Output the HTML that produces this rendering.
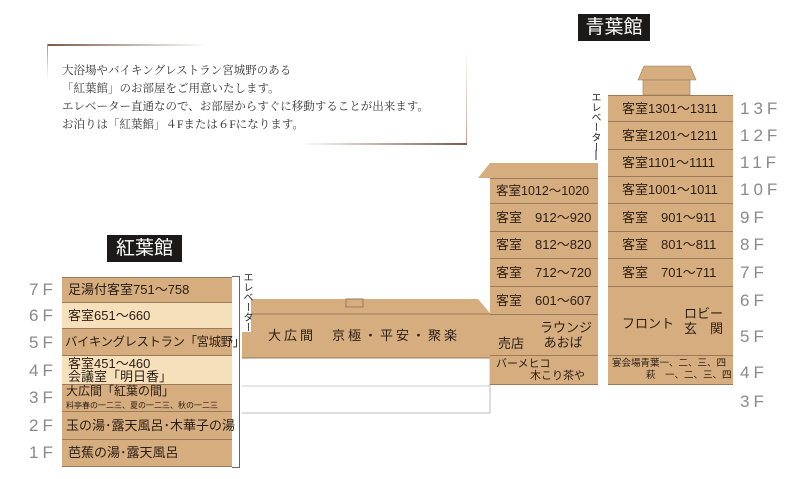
<!DOCTYPE html>
<html><head><meta charset="utf-8"><style>
body{margin:0;width:788px;height:479px;background:#fff;position:relative;overflow:hidden;font-family:"Liberation Sans","Noto Sans CJK JP",sans-serif;}
.a{position:absolute;box-sizing:border-box;}
.r{position:absolute;box-sizing:border-box;background:#d6ad7f;border-bottom:1px solid #9a7a58;color:#2a1e14;font-size:13px;white-space:nowrap;display:flex;align-items:center;line-height:14px;}
.lt{background:#f6e0bc;}
.f{position:absolute;color:#8a8a8a;font-size:17px;letter-spacing:4px;line-height:18px;}
.ttl{position:absolute;background:#1c1a18;color:#fff;font-size:19px;text-align:center;line-height:27px;}
.v{position:absolute;writing-mode:vertical-rl;font-size:10px;color:#222;line-height:10px;}
</style></head><body>
<div class="a" style="left:47px;top:44px;width:160px;height:2px;background:linear-gradient(90deg,#7a5a4a,#fff);"></div>
<div class="a" style="left:47px;top:44px;width:1px;height:35px;background:linear-gradient(#b09080,#fff);"></div>
<div class="a" style="left:466px;top:50px;width:1px;height:94px;background:linear-gradient(#fff,#c0a090);"></div>
<div class="a" style="left:300px;top:143px;width:167px;height:2px;background:linear-gradient(90deg,#fff,#7a5a4a);"></div>
<div class="a" style="left:62px;top:62px;font-family:'Liberation Serif','Noto Serif CJK SC',serif;font-size:11.5px;line-height:18px;color:#333;white-space:nowrap;">大浴場やバイキングレストラン宮城野のある<br>「紅葉館」のお部屋をご用意いたします。<br>エレベーター直通なので、お部屋からすぐに移動することが出来ます。<br>お泊りは「紅葉館」４Fまたは６Fになります。</div>

<div class="ttl" style="left:578px;top:14px;width:72px;height:27px;">青葉館</div>
<div class="ttl" style="left:107px;top:235px;width:75px;height:27px;">紅葉館</div>

<div class="r" style="left:62px;top:277px;width:170px;height:26px;padding:0 6px;border-top:1px solid #9a7a58">足湯付客室751～758</div>
<div class="r lt" style="left:62px;top:303px;width:170px;height:26px;padding:0 6px;">客室651～660</div>
<div class="r" style="left:62px;top:329px;width:170px;height:27px;padding:0 3px;font-size:12.3px;letter-spacing:-0.3px">バイキングレストラン「宮城野」</div>
<div class="r lt" style="left:62px;top:356px;width:170px;height:29px;padding:0 6px;line-height:13px;">客室451～460<br>会議室「明日香」</div>
<div class="r" style="left:62px;top:385px;width:170px;height:27px;padding:0 4px;line-height:13px;font-size:12px;"><div>大広間「紅葉の間」<br><span style="font-size:8px">料亭春の一二三、夏の一二三、秋の一二三</span></div></div>
<div class="r" style="left:62px;top:412px;width:170px;height:28px;padding:0 4px;">玉の湯･露天風呂･木華子の湯</div>
<div class="r" style="left:62px;top:440px;width:170px;height:27px;padding:0 6px;">芭蕉の湯･露天風呂</div>
<div class="f" style="left:29px;top:281px">7F</div><div class="f" style="left:29px;top:307px">6F</div><div class="f" style="left:29px;top:334px">5F</div><div class="f" style="left:29px;top:362px">4F</div><div class="f" style="left:29px;top:389px">3F</div><div class="f" style="left:29px;top:417px">2F</div><div class="f" style="left:29px;top:444px">1F</div>
<div class="a" style="left:232px;top:276px;width:8px;height:192px;border:1px solid #666;border-left:none;"></div>

<svg class="a" style="left:0;top:0" width="788" height="479">
<polygon points="242,299 478,299 490,313 490,358 242,358" fill="#d6ad7f"/>
<line x1="242" y1="314" x2="490" y2="314" stroke="#9a7a58"/>
<line x1="242" y1="358" x2="490" y2="358" stroke="#9a7a58"/>
<rect x="346" y="299" width="17" height="8" fill="none" stroke="#9a7a58"/>
<polyline points="242,386 490,386" stroke="#ccc" fill="none"/>
<polyline points="242,413 490,413 490,358" stroke="#bbb" fill="none"/>
<polygon points="478,178 490,163 598,163 598,178" fill="#d6ad7f"/>
<polygon points="638,80 644,66 690,66 696,80" fill="#d6ad7f" stroke="#9a7a58" stroke-width="0.6"/>
<rect x="643" y="80" width="47" height="15" fill="#d6ad7f" stroke="#9a7a58" stroke-width="0.6"/>
<line x1="596" y1="150" x2="596" y2="160" stroke="#333"/>
</svg>
<div class="a" style="left:268px;top:329px;font-size:13px;letter-spacing:3px;color:#2a1e14;line-height:14px">大広間　京極・平安・聚楽</div>
<div class="v" style="left:241px;top:272px;background:#fff">エレベーター</div>
<div class="v" style="left:589px;top:92px;">エレベーター</div>

<div class="r" style="left:490px;top:178px;width:108px;height:26px;padding:0 6px;border-top:1px solid #9a7a58;font-size:12.5px">客室1012～1020</div>
<div class="r" style="left:490px;top:204px;width:108px;height:28px;padding:0 6px;">客室　912～920</div>
<div class="r" style="left:490px;top:232px;width:108px;height:27px;padding:0 6px;">客室　812～820</div>
<div class="r" style="left:490px;top:259px;width:108px;height:28px;padding:0 6px;">客室　712～720</div>
<div class="r" style="left:490px;top:287px;width:108px;height:28px;padding:0 6px;">客室　601～607</div>
<div class="r" style="left:490px;top:315px;width:108px;height:41px;"><span class="a" style="left:50px;top:5px;line-height:15px">ラウンジ<br>&nbsp;あおば</span><span class="a" style="left:8px;top:22px">売店</span></div>
<div class="r" style="left:490px;top:356px;width:108px;height:29px;font-size:11px;line-height:12px;padding:0 6px;"><div>バーメヒコ<br><span style="padding-left:34px">木こり茶や</span></div></div>

<div class="r" style="left:608px;top:95px;width:125px;height:27px;padding:0 14px;border-top:1px solid #9a7a58">客室1301～1311</div>
<div class="r" style="left:608px;top:122px;width:125px;height:28px;padding:0 14px;">客室1201～1211</div>
<div class="r" style="left:608px;top:150px;width:125px;height:27px;padding:0 14px;">客室1101～1111</div>
<div class="r" style="left:608px;top:177px;width:125px;height:27px;padding:0 14px;">客室1001～1011</div>
<div class="r" style="left:608px;top:204px;width:125px;height:28px;padding:0 14px;">客室　901～911</div>
<div class="r" style="left:608px;top:232px;width:125px;height:27px;padding:0 14px;">客室　801～811</div>
<div class="r" style="left:608px;top:259px;width:125px;height:28px;padding:0 14px;">客室　701～711</div>
<div class="r" style="left:608px;top:287px;width:125px;height:69px;"><span class="a" style="left:14px;top:30px">フロント</span><span class="a" style="left:76px;top:19px;line-height:15px">ロビー<br>玄　関</span></div>
<div class="r" style="left:608px;top:356px;width:125px;height:29px;font-size:9.5px;line-height:12px;padding:0 4px;"><div>宴会場青葉一、二、三、四<br><span style="padding-left:34px">萩　一、二、三、四</span></div></div>
<div class="f" style="left:740px;top:100px">13F</div><div class="f" style="left:740px;top:127px">12F</div><div class="f" style="left:740px;top:154px">11F</div><div class="f" style="left:740px;top:181px">10F</div><div class="f" style="left:740px;top:209px">9F</div><div class="f" style="left:740px;top:236px">8F</div><div class="f" style="left:740px;top:264px">7F</div><div class="f" style="left:740px;top:292px">6F</div><div class="f" style="left:740px;top:328px">5F</div><div class="f" style="left:740px;top:364px">4F</div><div class="f" style="left:740px;top:393px">3F</div>
</body></html>
